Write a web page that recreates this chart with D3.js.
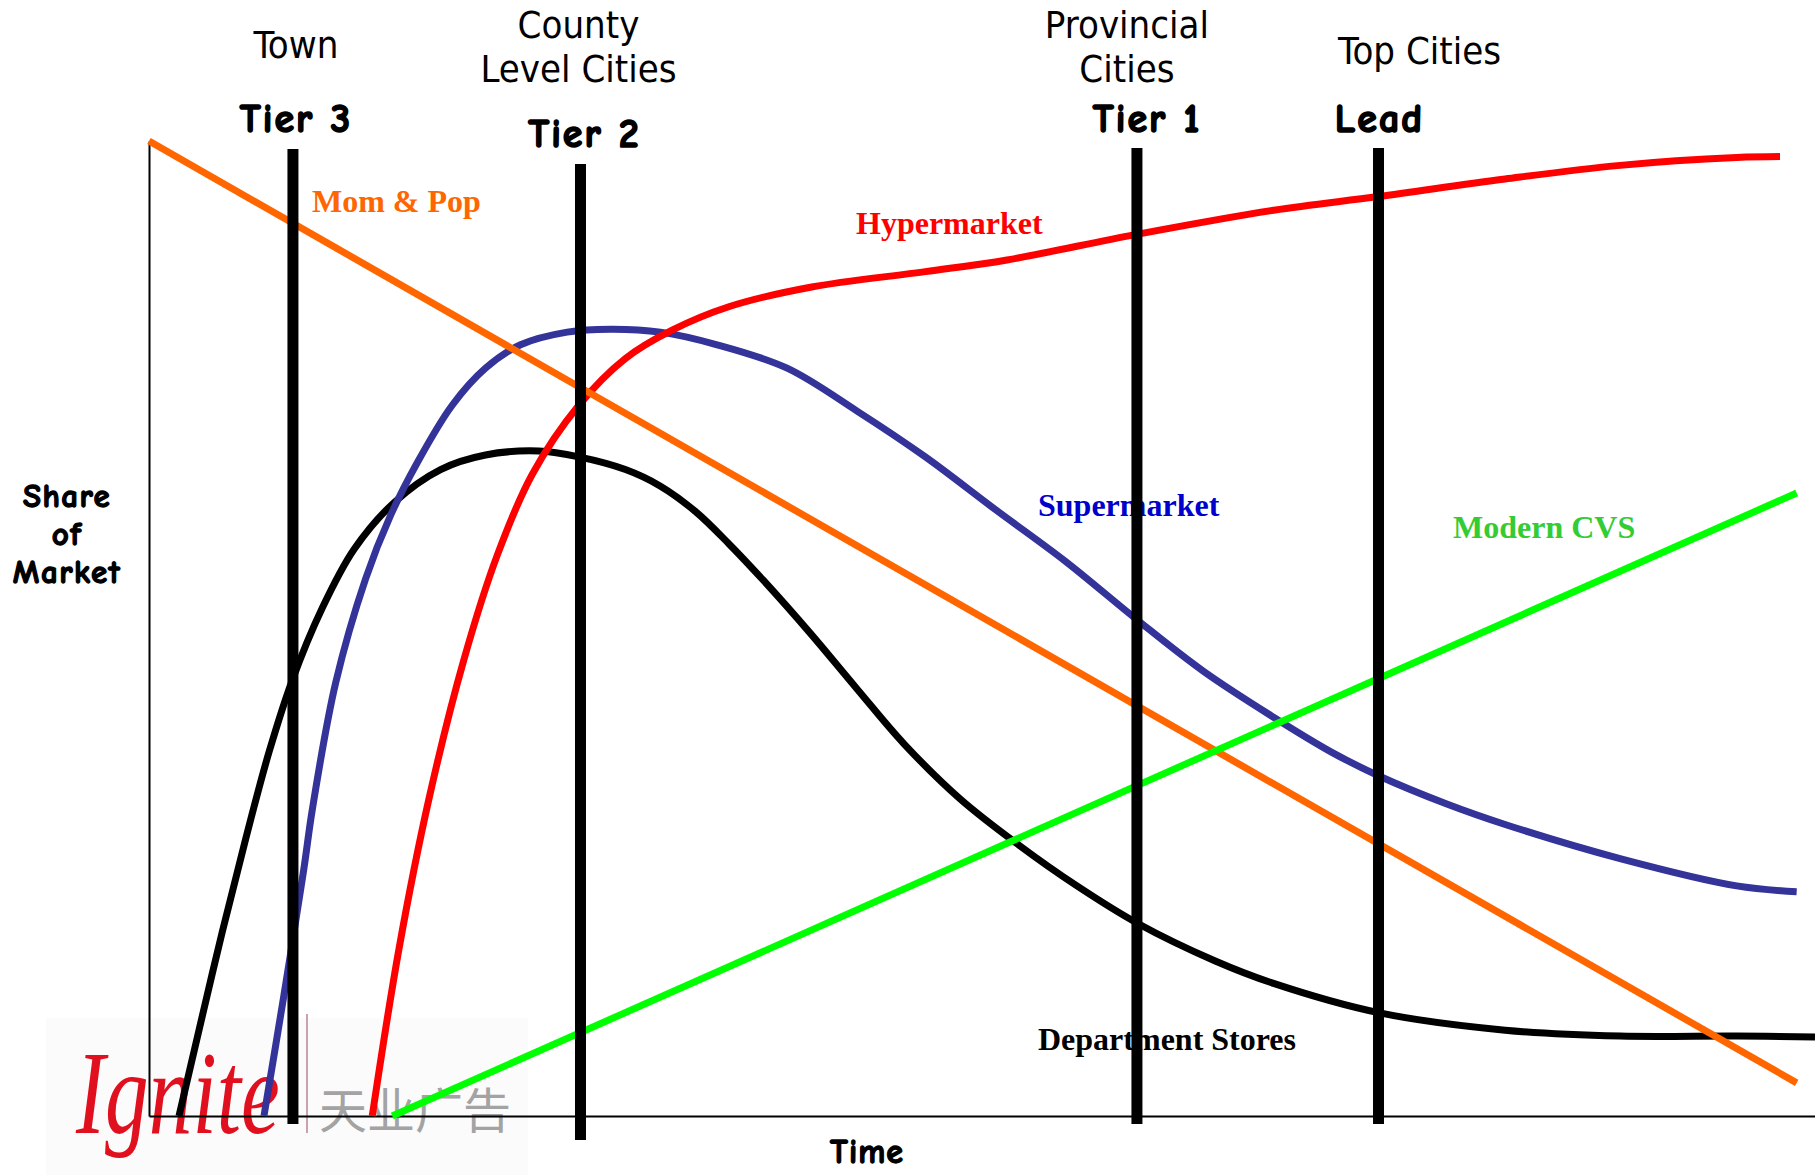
<!DOCTYPE html>
<html>
<head>
<meta charset="utf-8">
<script src="https://cdn.jsdelivr.net/npm/d3@7"></script>
<style>
  html, body { margin: 0; padding: 0; background: #fff; }
  svg { display: block; }
  .place { font-family: "Liberation Sans Narrow", "DejaVu Sans Condensed", "Liberation Sans", sans-serif; font-size: 38px; fill: #000; }
  .tier, .axis-title { font-family: "Comic Sans MS", "Comic Neue", Lato, "Noto Sans", sans-serif; font-weight: 900; fill: #000; stroke: #000; stroke-linejoin: round; }
  .series-label { font-family: "Liberation Serif", "Times New Roman", serif; font-weight: bold; font-size: 32px; }
</style>
</head>
<body>
<svg id="chart" width="1815" height="1175"></svg>
<script>
// Retail format life cycle: share of market over time, by city tier.
// x = time (0–100), y = share of market (0–100)

const tierNames  = ["Tier 3", "Tier 2", "Tier 1", "Lead"];
const tierPlaces = [["Town"], ["County", "Level Cities"], ["Provincial", "Cities"], ["Top Cities"]];
const tierTimes  = [8.64, 25.9, 59.3, 73.8];

const momPop = [[0, 100], [98.9, 3.4]];
const modernCVS = [[14.6, 0], [98.9, 63.9]];

const hypermarket = [
  [13.4, 0], [15.0, 17.1], [16.8, 32.5], [18.9, 46.8], [20.9, 57.5], [23.0, 65.8],
  [25.8, 72.9], [28.6, 77.7], [31.4, 80.6], [34.8, 83.0], [39.7, 85.0], [46.6, 86.6],
  [51.5, 87.8], [59.2, 90.4], [67.5, 92.9], [73.8, 94.3], [81.4, 96.1], [88.3, 97.5],
  [95.3, 98.3], [97.9, 98.4]
];

const supermarket = [
  [6.9, 0], [8.1, 12.4], [9.3, 25.4], [9.8, 31.4], [11.2, 44.4], [13.0, 55.1],
  [14.5, 61.6], [16.1, 67.0], [18.2, 72.9], [20.2, 76.7], [22.3, 79.1], [25.1, 80.4],
  [27.7, 80.7], [30.7, 80.4], [34.1, 79.1], [38.3, 76.7], [42.5, 72.3], [46.6, 67.6],
  [50.8, 62.2], [55.0, 56.9], [59.3, 50.9], [63.3, 45.6], [67.5, 40.9], [71.0, 37.3],
  [73.8, 34.9], [77.9, 32.0], [81.4, 29.9], [88.3, 26.4], [95.3, 23.6], [98.9, 23.0]
];

const departmentStores = [
  [1.8, 0], [3.0, 8.8], [4.4, 18.9], [5.8, 28.4], [7.2, 37.3], [8.6, 44.7],
  [10.4, 52.1], [12.3, 58.1], [14.7, 62.9], [17.5, 66.3], [20.2, 67.8], [23.4, 68.2],
  [25.8, 67.6], [28.6, 66.3], [30.7, 64.6], [32.8, 62.0], [34.8, 58.7], [36.9, 54.9],
  [39.7, 49.5], [42.5, 43.8], [45.3, 38.2], [48.7, 32.5], [52.2, 27.8], [55.7, 23.6],
  [59.3, 19.8], [64.0, 15.9], [67.5, 13.6], [73.8, 10.6], [81.4, 8.8], [88.3, 8.2],
  [95.3, 8.2], [100, 8.1]
];

const seriesNames = ["Mom & Pop", "Hypermarket", "Supermarket", "Modern CVS", "Department Stores"];

// ---- layout ----
const svg = d3.select("#chart");

const x = d3.scaleLinear().domain([0, 100]).range([149, 1815]);
const y = d3.scaleLinear().domain([0, 100]).range([1116, 141]);

// logo block (bottom-left)
const logo = svg.append("g").attr("class", "logo");
logo.append("rect").attr("x", 46).attr("y", 1018).attr("width", 482).attr("height", 157).attr("fill", "#fcfbfb");
logo.append("g").attr("transform", "translate(76,1133) scale(0.74,1)")
  .append("text")
  .attr("x", 0).attr("y", 0)
  .attr("font-family", "'Liberation Serif', 'DejaVu Serif', serif")
  .attr("font-style", "italic")
  .attr("font-size", 118)
  .attr("fill", "#e0101f")
  .text("Ignite");
logo.append("line").attr("x1", 307).attr("x2", 307).attr("y1", 1014).attr("y2", 1133)
  .attr("stroke", "#c9a3ab").attr("stroke-width", 2);
logo.append("text")
  .attr("x", 319).attr("y", 1128)
  .attr("font-family", "'Noto Sans CJK SC', sans-serif")
  .attr("font-size", 48)
  .attr("fill", "#a3a3a3")
  .text("天业广告");

// axes without ticks
svg.append("g").attr("transform", `translate(0,${y(0)})`)
  .call(d3.axisBottom(x).tickValues([]).tickSizeOuter(0))
  .call(g => g.select(".domain").attr("stroke", "#000").attr("stroke-width", 2));
svg.append("g").attr("transform", `translate(${x(0)},0)`)
  .call(d3.axisLeft(y).tickValues([]).tickSizeOuter(0))
  .call(g => g.select(".domain").attr("stroke", "#000").attr("stroke-width", 2));

// curves
const smooth = d3.line().x(d => x(d[0])).y(d => y(d[1])).curve(d3.curveCatmullRom.alpha(0.5));
const straight = d3.line().x(d => x(d[0])).y(d => y(d[1]));

const curves = [
  { data: departmentStores, color: "#000000", gen: smooth },
  { data: supermarket,      color: "#333399", gen: smooth },
  { data: hypermarket,      color: "#ff0000", gen: smooth },
  { data: momPop,           color: "#ff6600", gen: straight },
  { data: modernCVS,        color: "#00ff00", gen: straight }
];
svg.append("g").selectAll("path").data(curves).join("path")
  .attr("d", c => c.gen(c.data))
  .attr("fill", "none")
  .attr("stroke", c => c.color)
  .attr("stroke-width", 7)
  .attr("stroke-linejoin", "round");

// series labels
const labelLayout = [
  { x: 312,  y: 212,  color: "#ff6600" },
  { x: 856,  y: 234,  color: "#ff0000" },
  { x: 1038, y: 516,  color: "#0000cc" },
  { x: 1453, y: 538,  color: "#33cc33" },
  { x: 1038, y: 1050, color: "#000000" }
];
svg.append("g").selectAll("text").data(seriesNames).join("text")
  .attr("class", "series-label")
  .attr("x", (d, i) => labelLayout[i].x)
  .attr("y", (d, i) => labelLayout[i].y)
  .attr("fill", (d, i) => labelLayout[i].color)
  .text(d => d);

// tier markers
const tierLayout = [
  { top: 149, bottom: 1124, labelDx: 3,  labelY: 132, placeDx: 3,   placeY: [58] },
  { top: 164, bottom: 1140, labelDx: 4,  labelY: 147, placeDx: -2,  placeY: [38, 82] },
  { top: 148, bottom: 1124, labelDx: 10, labelY: 132, placeDx: -10, placeY: [38, 82] },
  { top: 148, bottom: 1124, labelDx: 1,  labelY: 132, placeDx: 41,  placeY: [64] }
];
const tiers = svg.append("g").selectAll("g").data(tierTimes).join("g");
tiers.append("line")
  .attr("x1", d => x(d)).attr("x2", d => x(d))
  .attr("y1", (d, i) => tierLayout[i].top)
  .attr("y2", (d, i) => tierLayout[i].bottom)
  .attr("stroke", "#000").attr("stroke-width", 11);
tiers.append("text")
  .attr("class", "tier")
  .attr("x", (d, i) => x(d) + tierLayout[i].labelDx)
  .attr("y", (d, i) => tierLayout[i].labelY)
  .attr("text-anchor", "middle")
  .attr("font-size", 40)
  .attr("letter-spacing", 2)
  .attr("stroke-width", 1.6)
  .text((d, i) => tierNames[i]);
tiers.each(function (d, i) {
  d3.select(this).selectAll("text.place").data(tierPlaces[i]).join("text")
    .attr("class", "place")
    .attr("x", x(d) + tierLayout[i].placeDx)
    .attr("y", (p, j) => tierLayout[i].placeY[j])
    .attr("text-anchor", "middle")
    .text(p => p);
});

// axis titles
const yTitle = svg.append("text").attr("class", "axis-title")
  .attr("text-anchor", "middle").attr("font-size", 33)
  .attr("letter-spacing", 1.5).attr("stroke-width", 1.3);
["Share", "of", "Market"].forEach((w, i) => {
  yTitle.append("tspan").attr("x", 67).attr("y", 507 + i * 38).text(w);
});
svg.append("text").attr("class", "axis-title")
  .attr("x", 867).attr("y", 1163)
  .attr("text-anchor", "middle").attr("font-size", 34)
  .attr("letter-spacing", 1).attr("stroke-width", 1.3)
  .text("Time");
</script>
</body>
</html>
